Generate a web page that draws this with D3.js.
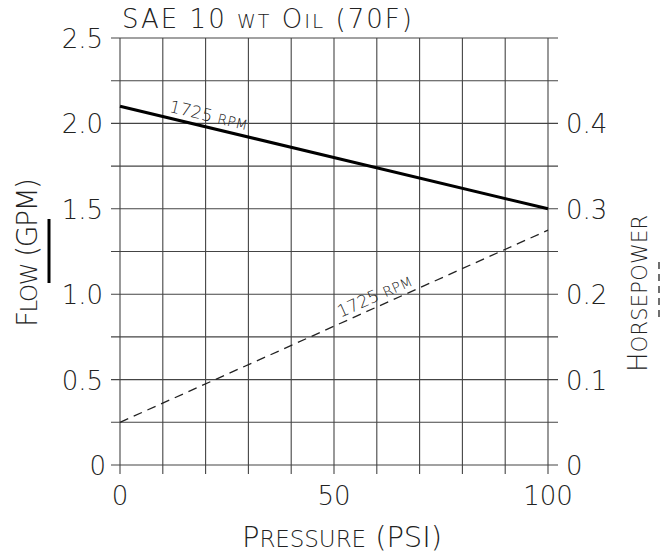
<!doctype html>
<html>
<head>
<meta charset="UTF-8">
<title>SAE 10 wt Oil (70F)</title>
<style>
  body { margin: 0; background: #fff; }
  text { font-family: "DejaVu Sans", "Liberation Sans", sans-serif; fill: #222; font-weight: 300; }
</style>
<script src="https://d3js.org/d3.v7.min.js"></script>
</head>
<body>
<svg id="chart" width="668" height="553"></svg>
<script>
// data
var pressure = [0, 100];          // PSI
var flow = [2.1, 1.5];            // GPM at 1725 RPM
var horsepower = [0.05, 0.275];   // HP at 1725 RPM
var xTicks = [0, 50, 100];
var flowTicks = [0, 0.5, 1.0, 1.5, 2.0, 2.5];
var hpTicks = [0, 0.1, 0.2, 0.3, 0.4];

var svg = d3.select("#chart");
var plotL = 120, plotR = 548, plotT = 38, plotB = 465;

var x = d3.scaleLinear().domain([0, 100]).range([plotL, plotR]);
var yFlow = d3.scaleLinear().domain([0, 2.5]).range([plotB, plotT]);
var yHp = d3.scaleLinear().domain([0, 0.5]).range([plotB, plotT]);

var grid = svg.append("g").attr("stroke", "#444").attr("stroke-width", 1.1);

// vertical grid every 10 psi, poking below the x axis
grid.selectAll("line.v")
  .data(d3.range(0, 101, 10))
  .enter().append("line")
    .attr("x1", function(d) { return x(d); })
    .attr("x2", function(d) { return x(d); })
    .attr("y1", plotT)
    .attr("y2", plotB + 9);

// horizontal grid every 0.25 gpm, poking out both sides
grid.selectAll("line.h")
  .data(d3.range(0, 11).map(function(i) { return i * 0.25; }))
  .enter().append("line")
    .attr("x1", plotL - 9)
    .attr("x2", plotR + 10)
    .attr("y1", function(d) { return yFlow(d); })
    .attr("y2", function(d) { return yFlow(d); });

// tick labels
svg.selectAll("text.fl")
  .data(flowTicks)
  .enter().append("text")
    .attr("x", function(d) { return d === 0 ? 106 : 103; })
    .attr("y", function(d) { return yFlow(d) + 10; })
    .attr("text-anchor", "end")
    .attr("font-size", 26)
    .text(function(d) { return d === 0 ? "0" : d.toFixed(1); });

svg.selectAll("text.hp")
  .data(hpTicks)
  .enter().append("text")
    .attr("x", 566)
    .attr("y", function(d) { return yHp(d) + 10; })
    .attr("font-size", 26)
    .text(function(d) { return d === 0 ? "0" : d.toFixed(1); });

svg.selectAll("text.xl")
  .data(xTicks)
  .enter().append("text")
    .attr("x", function(d) { return x(d); })
    .attr("y", 505)
    .attr("text-anchor", "middle")
    .attr("font-size", 26)
    .text(function(d) { return d; });

// curves
var flowLine = d3.line()
  .x(function(d, i) { return x(pressure[i]); })
  .y(function(d) { return yFlow(d); });
var hpLine = d3.line()
  .x(function(d, i) { return x(pressure[i]); })
  .y(function(d) { return yHp(d); });

svg.append("path")
  .attr("d", flowLine(flow))
  .attr("fill", "none")
  .attr("stroke", "#000")
  .attr("stroke-width", 3);

svg.append("path")
  .attr("d", hpLine(horsepower))
  .attr("fill", "none")
  .attr("stroke", "#222")
  .attr("stroke-width", 1.3)
  .attr("stroke-dasharray", "9,6");

// curve labels, rotated along each line
function curveLabel(p, scale, series, dx, dy) {
  var x0 = x(pressure[0]), y0 = scale(series[0]);
  var x1 = x(pressure[1]), y1 = scale(series[1]);
  var ang = Math.atan2(y1 - y0, x1 - x0) * 180 / Math.PI;
  var t = p / 100;
  var px = x0 + (x1 - x0) * t, py = y0 + (y1 - y0) * t;
  svg.append("text")
    .attr("transform", "translate(" + px + "," + py + ") rotate(" + ang + ") translate(" + dx + "," + dy + ")")
    .attr("font-size", 17)
    .attr("textLength", 80)
    .attr("lengthAdjust", "spacing")
    .html('1725 <tspan font-size="14">RPM</tspan>');
}
curveLabel(11, yFlow, flow, 0, -6);
curveLabel(52, yHp, horsepower, 0, -5);

// title
svg.append("text")
  .attr("x", 122)
  .attr("y", 28)
  .attr("font-size", 26)
  .attr("textLength", 290)
  .attr("lengthAdjust", "spacing")
  .html('SAE 10 <tspan font-size="19">WT</tspan> O<tspan font-size="20">IL</tspan> (70F)');

// x title
svg.append("text")
  .attr("x", 242)
  .attr("y", 547)
  .attr("font-size", 29)
  .attr("textLength", 200)
  .attr("lengthAdjust", "spacing")
  .html('P<tspan font-size="23">RESSURE</tspan> (PSI)');

// left title with solid legend line
svg.append("text")
  .attr("transform", "translate(37,327) rotate(-90)")
  .attr("font-size", 28)
  .attr("textLength", 149)
  .attr("lengthAdjust", "spacing")
  .html('F<tspan font-size="23">LOW</tspan> (GPM)');
svg.append("line")
  .attr("x1", 49).attr("x2", 49)
  .attr("y1", 219).attr("y2", 283)
  .attr("stroke", "#000").attr("stroke-width", 3);

// right title with dashed legend line
svg.append("text")
  .attr("transform", "translate(647,372) rotate(-90)")
  .attr("font-size", 26)
  .attr("textLength", 157)
  .attr("lengthAdjust", "spacing")
  .html('H<tspan font-size="21">ORSEPOWER</tspan>');
svg.append("line")
  .attr("x1", 659).attr("x2", 659)
  .attr("y1", 262).attr("y2", 317)
  .attr("stroke", "#222").attr("stroke-width", 1.3)
  .attr("stroke-dasharray", "7,5");
</script>
</body>
</html>
